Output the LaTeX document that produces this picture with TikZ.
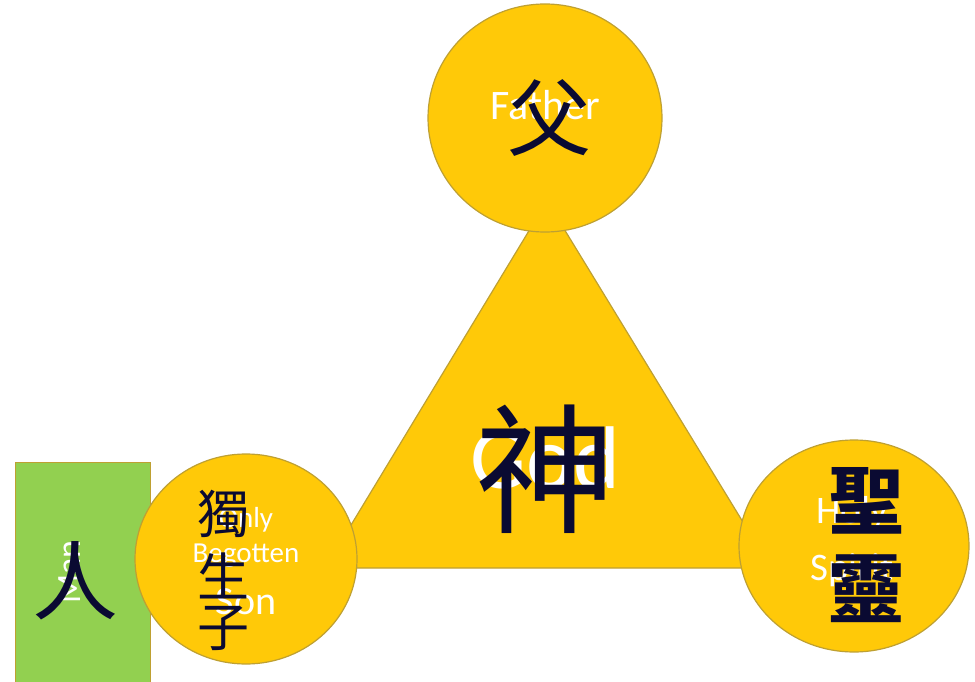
\documentclass[tikz,border=0pt]{standalone}
\usepackage{fontspec}
\setmainfont{Carlito}
\newfontfamily\cjk{Noto Sans CJK TC}
\usetikzlibrary{shapes.geometric}
\definecolor{gold}{RGB}{255,201,8}
\definecolor{goldedge}{RGB}{190,160,50}
\definecolor{leaf}{RGB}{146,208,80}
\definecolor{navy}{RGB}{10,10,50}
\tikzset{
  shapebox/.style={fill=gold,draw=goldedge,line width=1.2pt},
  engtext/.style={text=white,inner sep=0pt,anchor=base},
  zhtext/.style={text=navy,inner sep=0pt,font=\cjk},
}
\newcommand{\fs}[1]{\fontsize{#1}{#1}\selectfont}
\begin{document}
\begin{tikzpicture}[x=1pt,y=-1pt]
\useasboundingbox (0,0) rectangle (975,682);
\clip (0,0) rectangle (975,682);
% triangle
\coordinate (tA) at (547,201);
\coordinate (tB) at (325,568);
\coordinate (tC) at (771,568);
\draw[shapebox,line join=round] (tA) -- (tB) -- (tC) -- cycle;
\node[engtext,font=\fs{89}] (god) at (545,488) {God};
\node[zhtext,font=\cjk\fs{140}] (shen) at (545,469) {神};
% man rectangle
\node[draw=goldedge,fill=leaf,line width=1.2pt,minimum width=135pt,minimum height=230pt,inner sep=0pt,anchor=north west] (man) at (15,462) {};
\node[text=white,inner sep=0pt,rotate=90,font=\fs{34}] (mantext) at (70,572) {Man};
\node[zhtext,font=\cjk\fs{86}] (ren) at (75,581) {人};
% top circle
\node[shapebox,ellipse,minimum width=234pt,minimum height=228pt,inner sep=0pt] (father) at (545,118) {};
\node[engtext,font=\fs{42}] (fathertext) at (545,120) {Father};
\node[zhtext,font=\cjk\fs{84}] (fu) at (549,118) {父};
% left circle
\node[shapebox,ellipse,minimum width=222pt,minimum height=210pt,inner sep=0pt] (son) at (246,559) {};
\node[engtext,font=\fs{29}] (only) at (246,527) {Only};
\node[engtext,font=\fs{29}] (begotten) at (246,562) {Begotten};
\node[engtext,font=\fs{40}] (sontext) at (246,614) {Son};
\node[zhtext,font=\cjk\fs{52}] (du) at (223,514) {獨};
\node[zhtext,font=\cjk\fs{52}] (sheng) at (223,576) {生};
\node[zhtext,font=\cjk\fs{52}] (zi) at (223,628) {子};
% right circle
\node[shapebox,ellipse,minimum width=230pt,minimum height=212pt,inner sep=0pt] (spirit) at (854,546) {};
\node[engtext,font=\fs{39}] (holy) at (852,523) {Holy};
\node[engtext,font=\fs{39}] (spirittext) at (852,580) {Spirit};
\node[zhtext,font=\cjk\bfseries\fs{76}] (shengz) at (866,501) {聖};
\node[zhtext,font=\cjk\bfseries\fs{76}] (ling) at (866,589) {靈};
\end{tikzpicture}
\end{document}
